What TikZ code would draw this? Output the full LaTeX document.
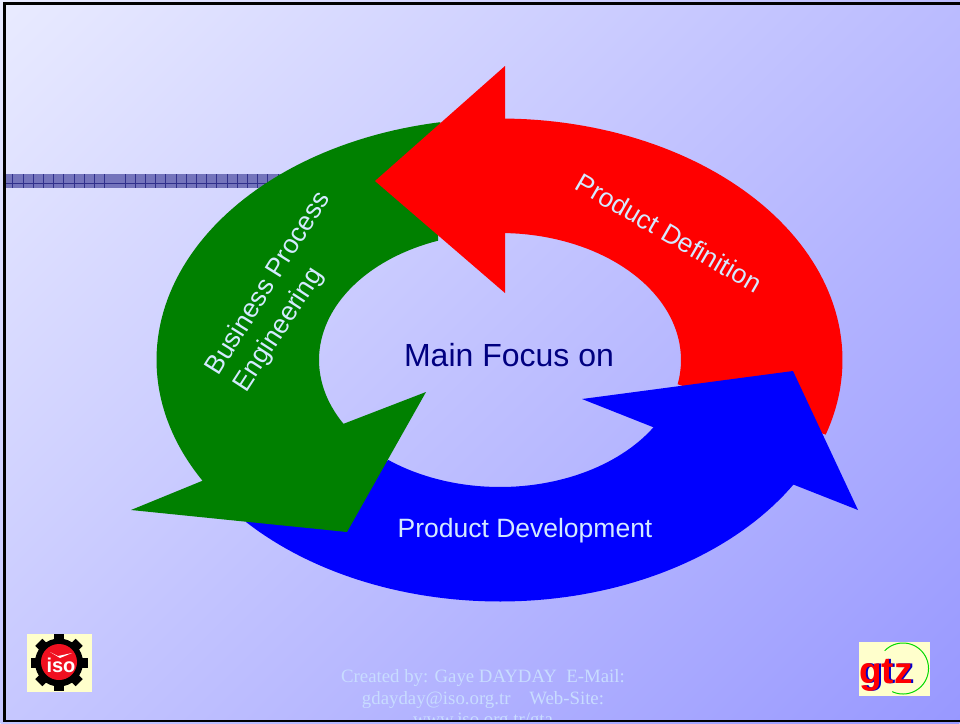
\documentclass[tikz,border=0pt]{standalone}
\usepackage{fontspec}
\setmainfont{Liberation Sans}
\newfontfamily\serifface{Liberation Serif}
\definecolor{bgA}{HTML}{E9EBFF}
\definecolor{bgB}{HTML}{9898FF}
\definecolor{gearred}{HTML}{F01020}
\definecolor{cream}{HTML}{FFFFCC}
\definecolor{footertext}{HTML}{C8DCFF}
\definecolor{barfill}{HTML}{7474BC}
\definecolor{barline}{HTML}{30308C}
\definecolor{ringgreen}{HTML}{008000}
\definecolor{labeltext}{HTML}{D4EAFF}
\tikzset{
  ringlabel/.style={text=labeltext,font=\fontsize{26.5}{30}\selectfont,align=center,inner sep=0pt},
  footer/.style={text=footertext,font=\serifface\fontsize{18.8}{24}\selectfont,inner sep=0pt,anchor=base},
  gtzmark/.style={font=\bfseries\fontsize{37}{37}\selectfont,inner sep=0pt,anchor=base},
}
\begin{document}
\begin{tikzpicture}[x=1pt,y=-1pt]
\useasboundingbox (0,0) rectangle (960,723);
\begin{scope}
\clip (0,0) rectangle (960,723);
\begin{scope}[transform canvas={shift={(480,361.5)},rotate=45}]
\shade[top color=bgA,bottom color=bgB] (-595pt,-595pt) rectangle (595pt,595pt);
\end{scope}
\end{scope}
% hatched bar
\fill[barfill] (5,174) rectangle (285,188);
\foreach \i in {0,...,9,11,12,...,26} \draw[barline,line width=.6pt] ({12.7+10.2*\i},174) -- ({12.7+10.2*\i},188);
\draw[barline,line width=.6pt] (5,183.5) -- (285,183.5);
% red ring body
\fill[red] plot[domain=-90:18,samples=70] ({500+342.5*cos(\x)},{360+241.5*sin(\x)}) -- plot[domain=11:-90,samples=50] ({500+181*cos(\x)},{360+127*sin(\x)}) -- cycle;
% blue arrow
\fill[blue] (582,399) -- (793,371) -- (858,510) -- (792,484) -- plot[domain=31:138,samples=70] ({500+342.5*cos(\x)},{360+241.5*sin(\x)}) -- plot[domain=128:32,samples=50] ({500+181*cos(\x)},{360+127*sin(\x)}) -- cycle;
% green arrow
\fill[ringgreen] (131,510) -- (347,532) -- (426,392) -- (343,424) -- plot[domain=150:250,samples=50] ({500+181*cos(\x)},{360+127*sin(\x)}) -- plot[domain=260:150,samples=70] ({500+343.5*cos(\x)},{360+241.5*sin(\x)}) -- cycle;
% red arrow head
\fill[red] (505,66) -- (375,181) -- (505,293) -- (505,233) -- (505,118) -- cycle;
% labels
\node[ringlabel,rotate=-30] (pdef) at (669,233) {Product Definition};
\node[ringlabel] (pdev) at (525,531) {Product Development};
\node[ringlabel,rotate=58] (bpe) at (266.5,282.5) {Business Process};
\node[ringlabel,rotate=57] (eng) at (279,330) {Engineering};
\node[text=blue!50!black,font=\fontsize{32}{36}\selectfont,inner sep=0pt] (focus) at (509,355) {Main Focus on};
% footer
\begin{scope}
\clip (0,0) rectangle (960,719);
\node[footer] (f1) at (483,682) {Created by: Gaye DAYDAY\ \ E-Mail:};
\node[footer] (f2) at (483,704.5) {gdayday@iso.org.tr\ \ \ \ Web-Site:};
\node[footer] (f3) at (483,725.5) {www.iso.org.tr/gta};
\end{scope}
% iso logo
\fill[cream] (27,634) rectangle (92,692);
\foreach \a in {0,45,...,315}
  \fill[black,shift={(59,662.5)},rotate=\a] (-5,-28.5) rectangle (5,-20);
\fill[black] (59,662.5) circle[radius=24];
\fill[gearred] (59,662) circle[radius=18];
\node[text=white,font=\bfseries\fontsize{20}{20}\selectfont,inner sep=0pt] (isot) at (61,665) {iso};
\fill[white] (50,652) -- (58,656) -- (72,653) -- (60,658) -- cycle;
% gtz logo
\fill[cream] (859,642) rectangle (930,696);
\draw[green!85!black,line width=1pt] plot[domain=-136:115,samples=60] ({903+25.5*cos(\x)},{668.5+25.5*sin(\x)});
\node[gtzmark,text=blue!80!black] (gtzb) at (888,683) {gtz};
\node[gtzmark,text=red] (gtzr) at (886,683) {gtz};
% border
\fill[black] (3,2) rectangle (960,5);
\fill[black] (3,2) rectangle (6,722);
\fill[black] (3,719.5) rectangle (960,722);
\end{tikzpicture}
\end{document}
